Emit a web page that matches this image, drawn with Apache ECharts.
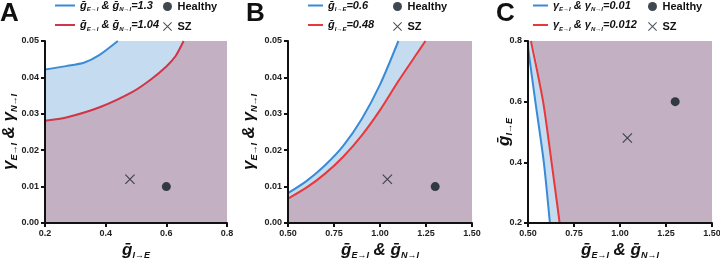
<!DOCTYPE html>
<html>
<head>
<meta charset="utf-8">
<script src="https://cdn.jsdelivr.net/npm/echarts@6/dist/echarts.min.js"></script>
<style>
    html, body { margin: 0; padding: 0; background: #fff; }
    #chart { width: 720px; height: 258px; }
</style>
</head>
<body>
<div id="chart"></div>
<script>
    // panel A: gamma vs g(I->E)
    var aBlueX = [0.2, 0.27, 0.33, 0.38, 0.44];
    var aBlueY = [0.0422, 0.0431, 0.0441, 0.0462, 0.05];
    var aRedX = [0.2, 0.27, 0.38, 0.49, 0.55, 0.60, 0.63, 0.657];
    var aRedY = [0.0281, 0.0290, 0.0318, 0.0361, 0.0395, 0.0430, 0.0458, 0.05];
    var aHealthy = [0.6, 0.01];
    var aSZ = [0.48, 0.012];

    // panel B: gamma vs g(E->I)
    var bBlueX = [0.5, 0.6, 0.7, 0.8, 0.9, 1.0, 1.1];
    var bBlueY = [0.0082, 0.0115, 0.0158, 0.0212, 0.0285, 0.038, 0.05];
    var bRedX = [0.5, 0.6, 0.7, 0.8, 0.9, 1.0, 1.1, 1.2, 1.247];
    var bRedY = [0.0067, 0.0097, 0.0135, 0.0182, 0.024, 0.031, 0.039, 0.0465, 0.05];
    var bHealthy = [1.3, 0.01];
    var bSZ = [1.04, 0.012];

    // panel C: g(I->E) vs g(E->I)
    var cBlueX = [0.5, 0.54, 0.586, 0.619];
    var cBlueY = [0.778, 0.6, 0.4, 0.2];
    var cRedX = [0.516, 0.582, 0.628, 0.672];
    var cRedY = [0.8, 0.6, 0.4, 0.2];
    var cHealthy = [1.3, 0.6];
    var cSZ = [1.04, 0.48];

    var legendA = ['{m|ḡ}{s|E→I}{m| & ḡ}{s|N→I}{m|=1.3}', '{m|ḡ}{s|E→I}{m| & ḡ}{s|N→I}{m|=1.04}'];
    var legendB = ['{m|ḡ}{s|I→E}{m|=0.6}', '{m|ḡ}{s|I→E}{m|=0.48}'];
    var legendC = ['{m|γ}{s|E→I}{m| & γ}{s|N→I}{m|=0.01}', '{m|γ}{s|E→I}{m| & γ}{s|N→I}{m|=0.012}'];

    var FONT = '"Liberation Sans", Arial, Helvetica, sans-serif';
    var BLUE = '#3a8bd6';
    var RED = '#e8383a';
    var RED_A = '#d03548';
    var FILL_BLUE = '#c5dcf0';
    var FILL_MAUVE = '#c3b0c2';
    var INK = '#111';

    var rich = {
        m: {fontFamily: FONT, fontSize: 11, fontWeight: 'bold', fontStyle: 'italic', color: INK, lineHeight: 14},
        s: {fontFamily: FONT, fontSize: 6, fontWeight: 'bold', fontStyle: 'italic', color: INK, lineHeight: 5, verticalAlign: 'bottom'},
        M: {fontFamily: FONT, fontSize: 17, fontWeight: 'bold', fontStyle: 'italic', color: INK, lineHeight: 20},
        S: {fontFamily: FONT, fontSize: 9, fontWeight: 'bold', fontStyle: 'italic', color: INK, lineHeight: 8, verticalAlign: 'bottom'}
    };

    var X_PATH = 'path://M0,0.8L0.8,0L10,9.2L9.2,10Z M9.2,0L10,0.8L0.8,10L0,9.2Z';

    function pairs(xs, ys) {
        return xs.map(function (x, i) { return [x, ys[i]]; });
    }

    function axisBase(grid, min, max, interval, digits) {
        return {
            gridIndex: grid,
            type: 'value',
            z: 10,
            min: min,
            max: max,
            interval: interval,
            axisLine: {show: true, onZero: false, lineStyle: {color: INK, width: 2}},
            axisTick: {show: true, length: 4, lineStyle: {color: INK, width: 2}},
            axisLabel: {
                fontFamily: FONT, fontSize: 9, fontWeight: 'bold', color: '#222', margin: 6,
                formatter: function (v) { return v.toFixed(digits); }
            },
            splitLine: {show: false},
            nameLocation: 'middle',
            nameMoveOverlap: false,
            nameTextStyle: {rich: rich}
        };
    }

    function xAx(grid, min, max, interval, digits, name) {
        var a = axisBase(grid, min, max, interval, digits);
        a.name = name;
        a.nameGap = 17;
        return a;
    }

    function yAx(grid, min, max, interval, digits, name, gap) {
        var a = axisBase(grid, min, max, interval, digits);
        a.name = name;
        a.nameRotate = 90;
        a.nameGap = gap;
        return a;
    }

    // the grid itself is painted mauve; lighter regions are laid over it,
    // each bounded by a curve that runs into the plot frame
    function region(name, grid, pts, color, z, origin) {
        return {
            name: name, type: 'line', xAxisIndex: grid, yAxisIndex: grid,
            data: pts, smooth: 0.25, symbol: 'none', z: z,
            lineStyle: {width: 0, opacity: 0},
            areaStyle: {color: color, opacity: 1, origin: origin},
            silent: true
        };
    }

    function curve(name, grid, pts, color, z) {
        return {
            name: name, type: 'line', xAxisIndex: grid, yAxisIndex: grid,
            data: pts, smooth: 0.25, symbol: 'none', z: z,
            color: color,
            lineStyle: {width: 2, color: color}
        };
    }

    function dots(grid, healthy, sz) {
        return [{
            name: 'Healthy', type: 'scatter', xAxisIndex: grid, yAxisIndex: grid,
            data: [healthy], symbol: 'circle', symbolSize: 9, z: 6,
            itemStyle: {color: '#0f1a26'}
        }, {
            name: 'SZ', type: 'scatter', xAxisIndex: grid, yAxisIndex: grid,
            data: [sz], symbol: X_PATH, symbolSize: 10, z: 6,
            itemStyle: {color: '#1a2430'}
        }];
    }

    var labelMap = {};
    ['A', 'B', 'C'].forEach(function (p, k) {
        var lbl = [legendA, legendB, legendC][k];
        labelMap[p + ' blue'] = lbl[0];
        labelMap[p + ' red'] = lbl[1];
    });

    function lineLegend(p, left, w) {
        return {
            left: left, top: 0, padding: 0, orient: 'vertical', itemGap: 7,
            itemWidth: w, itemHeight: 2, selectedMode: false,
            data: [{name: p + ' blue', icon: 'rect'}, {name: p + ' red', icon: 'rect'}],
            formatter: function (n) { return labelMap[n]; },
            textStyle: {rich: rich}
        };
    }

    function groupLegend(left) {
        return {
            left: left, top: 0, padding: 0, orient: 'vertical', itemGap: 7,
            itemWidth: 10, itemHeight: 9, selectedMode: false,
            data: ['Healthy', 'SZ'],
            textStyle: {fontFamily: FONT, fontSize: 11, fontWeight: 'bold', color: INK, lineHeight: 13}
        };
    }

    function gridAt(left, width) {
        return {
            left: left, top: 41, width: width, height: 182,
            show: true, backgroundColor: FILL_MAUVE, borderWidth: 0,
            outerBoundsMode: 'none', containLabel: false
        };
    }

    var cCorner = [0.5, 0.8];

    var option = {
        animation: false,
        backgroundColor: '#fff',
        grid: [gridAt(45, 182), gridAt(288, 184), gridAt(528, 184)],
        xAxis: [
            xAx(0, 0.2, 0.8, 0.2, 1, '{M|ḡ}{S|I→E}'),
            xAx(1, 0.5, 1.5, 0.25, 2, '{M|ḡ}{S|E→I}{M| & ḡ}{S|N→I}'),
            xAx(2, 0.5, 1.5, 0.25, 2, '{M|ḡ}{S|E→I}{M| & ḡ}{S|N→I}')
        ],
        yAxis: [
            yAx(0, 0, 0.05, 0.01, 2, '{M|γ}{S|E→I}{M| & γ}{S|N→I}', 26),
            yAx(1, 0, 0.05, 0.01, 2, '{M|γ}{S|E→I}{M| & γ}{S|N→I}', 29),
            yAx(2, 0.2, 0.8, 0.2, 1, '{M|ḡ}{S|I→E}', 14)
        ],
        legend: [
            lineLegend('A', 55, 20), groupLegend(163),
            lineLegend('B', 308, 15), groupLegend(393),
            lineLegend('C', 533, 15), groupLegend(648)
        ],
        graphic: [
            {type: 'text', left: 0, top: 1, style: {text: 'A', font: 'bold 26px ' + FONT, fill: INK}},
            {type: 'text', left: 246, top: 1, style: {text: 'B', font: 'bold 26px ' + FONT, fill: INK}},
            {type: 'text', left: 496, top: 1, style: {text: 'C', font: 'bold 26px ' + FONT, fill: INK}}
        ],
        series: [
            // A: blue band above the red curve, white above the blue curve
            region('A band', 0, pairs(aRedX, aRedY), FILL_BLUE, 2, 'end'),
            region('A clear', 0, pairs(aBlueX, aBlueY), '#fff', 3, 'end'),
            curve('A blue', 0, pairs(aBlueX, aBlueY), BLUE, 4),
            curve('A red', 0, pairs(aRedX, aRedY), RED_A, 5),

            region('B band', 1, pairs(bRedX, bRedY), FILL_BLUE, 2, 'end'),
            region('B clear', 1, pairs(bBlueX, bBlueY), '#fff', 3, 'end'),
            curve('B blue', 1, pairs(bBlueX, bBlueY), BLUE, 4),
            curve('B red', 1, pairs(bRedX, bRedY), RED, 5),

            // C: blue band left of the red curve, white left of the blue curve
            region('C band', 2, [cCorner].concat(pairs(cRedX, cRedY)), FILL_BLUE, 2, 'start'),
            region('C clear', 2, pairs(cBlueX, cBlueY), '#fff', 3, 'start'),
            curve('C blue', 2, pairs(cBlueX, cBlueY), BLUE, 4),
            curve('C red', 2, pairs(cRedX, cRedY), RED, 5)
        ].concat(dots(0, aHealthy, aSZ), dots(1, bHealthy, bSZ), dots(2, cHealthy, cSZ))
    };

    var myChart = echarts.init(document.getElementById('chart'));
    myChart.setOption(option);
</script>
</body>
</html>
